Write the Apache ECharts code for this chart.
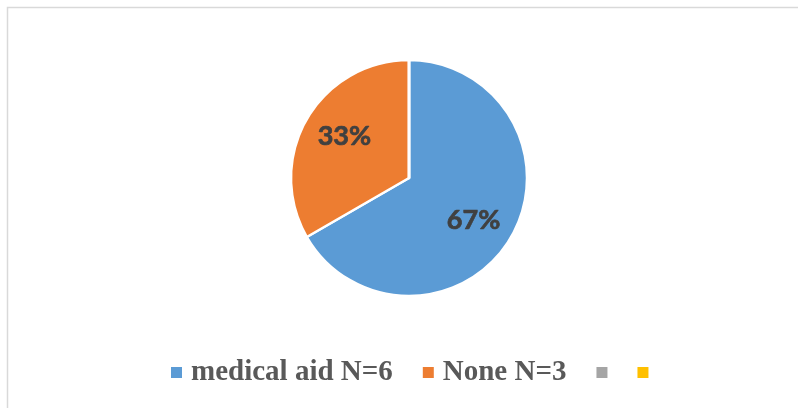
<!DOCTYPE html>
<html>
<head>
<meta charset="utf-8">
<script src="https://cdn.jsdelivr.net/npm/echarts@6/dist/echarts.min.js"></script>
<style>
html,body{margin:0;padding:0;background:#fff;}
#chart{width:798px;height:408px;}
</style>
</head>
<body>
<div id="chart"></div>
<script>
const categories = ['medical aid N=6', 'None N=3', ' ', '  '];
const values = [6, 3, 0, 0];
const percentLabels = ['67%', '33%', '', ''];
const colors = ['#5B9BD5', '#ED7D31', '#A5A5A5', '#FFC000'];

const chart = echarts.init(document.getElementById('chart'), null, {renderer: 'canvas'});

const pieData = categories.map((c, i) => ({
  name: c,
  value: values[i],
  itemStyle: {color: colors[i]}
}));
const labelData = categories.map((c, i) => ({
  name: c,
  value: values[i],
  label: {show: values[i] > 0, formatter: percentLabels[i]}
}));

chart.setOption({
  animation: false,
  backgroundColor: '#ffffff',
  graphic: [{
    type: 'rect',
    shape: {x: 7.5, y: 7.5, width: 820, height: 420},
    style: {fill: 'none', stroke: '#d9d9d9', lineWidth: 1.5},
    silent: true
  }],
  legend: {
    data: categories,
    left: 171,
    top: 358,
    padding: 0,
    itemWidth: 11,
    itemHeight: 11,
    itemGap: 30,
    icon: 'rect',
    itemStyle: {borderWidth: 0},
    formatter: function (n) { return n.trim() === '' ? '' : n; },
    textStyle: {
      fontFamily: '"Liberation Serif", "Times New Roman", serif',
      fontWeight: 'bold',
      fontSize: 29,
      color: '#595959',
      padding: [0, 0, 0, 4]
    }
  },
  series: [
    {
      type: 'pie',
      center: [409, 178],
      radius: [0, 118],
      startAngle: 90,
      clockwise: true,
      silent: true,
      label: {show: false},
      labelLine: {show: false},
      itemStyle: {borderColor: '#ffffff', borderWidth: 2.5},
      data: pieData
    },
    {
      type: 'pie',
      center: [409, 178],
      radius: [0, 148],
      startAngle: 87,
      clockwise: true,
      silent: true,
      legendHoverLink: false,
      itemStyle: {color: 'rgba(0,0,0,0)', borderWidth: 0},
      label: {
        position: 'inside',
        fontFamily: 'Lato, "Noto Sans", sans-serif',
        fontWeight: 'bold',
        fontSize: 27,
        color: '#404040',
        textBorderColor: '#404040',
        textBorderWidth: 0.7
      },
      labelLine: {show: false},
      data: labelData
    }
  ]
});
</script>
</body>
</html>
